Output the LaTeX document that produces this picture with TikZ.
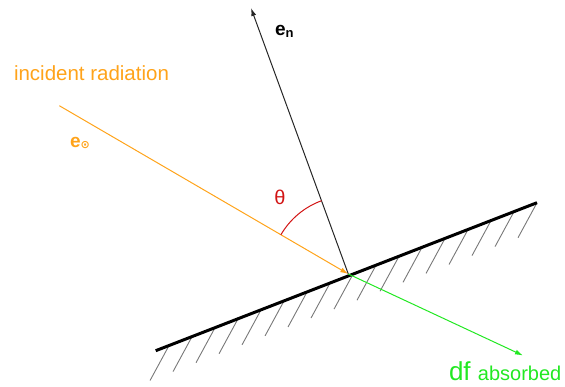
\documentclass[tikz,border=0pt]{standalone}
\usepackage{fontspec}
\setmainfont{Liberation Sans}
\newfontfamily\symfont{DejaVu Sans}
\usetikzlibrary{arrows.meta,calc}
\definecolor{radorange}{RGB}{255,163,26}
\definecolor{absgreen}{RGB}{34,232,34}
\definecolor{thetared}{RGB}{210,20,20}
\definecolor{hatchgray}{RGB}{120,120,120}
\tikzset{
  surface/.style={line width=3pt,black},
  hatchline/.style={line width=0.9pt,hatchgray},
  normalvec/.style={line width=1pt,black!85,-{Latex[length=8pt,width=5pt]}},
  incvec/.style={line width=1pt,radorange,-{Latex[length=8pt,width=5pt]}},
  absvec/.style={line width=1pt,absgreen,-{Latex[length=8pt,width=5pt]}},
  anglearc/.style={line width=1pt,thetared},
  lbl/.style={inner sep=0pt,outer sep=0pt}
}
\begin{document}
\begin{tikzpicture}[x=1pt,y=-1pt]
\useasboundingbox (0,0) rectangle (565,387);
% key points
\coordinate (A) at (155.7,350.7);
\coordinate (B) at (537,202.7);
\coordinate (P) at (348.3,274);
\coordinate (N) at (251,8);
\coordinate (S) at (59.3,105.7);
\coordinate (G) at (523,355.5);
% hatching
\foreach \k in {0,...,16}{
  \pgfmathsetmacro{\t}{0.035+0.0603125*\k}
  \draw[hatchline] ($(A)!\t!(B)$) -- ++(-19,35);
}
% surface
\draw[surface] (A) -- (B);
% vectors
\draw[normalvec] (P) -- (N);
\draw[incvec] (S) -- (P);
\draw[absvec] (P) -- (G);
% angle
\draw[anglearc] (P) ++(110:78pt) arc[start angle=110,end angle=149.8,radius=78pt];
% labels
\node[lbl,anchor=west,text=radorange,font=\fontsize{20.5}{24}\selectfont] (inc) at (14,73) {incident radiation};
\node[lbl,anchor=west,text=radorange] (eo) at (70,143) {\fontsize{19}{22}\selectfont\bfseries e\raisebox{-1pt}{\fontsize{11}{12}\selectfont\symfont ⊙}};
\node[lbl,anchor=west,text=black] (en) at (275,31) {\fontsize{19}{22}\selectfont\bfseries e\raisebox{-2pt}{\fontsize{13}{14}\selectfont n}};
\node[lbl,text=thetared,font=\fontsize{20}{24}\selectfont] (th) at (280,197) {θ};
\node[lbl,anchor=west,text=absgreen] (df) at (449,371) {\fontsize{26}{30}\selectfont df \fontsize{20}{23}\selectfont absorbed};
\end{tikzpicture}
\end{document}
